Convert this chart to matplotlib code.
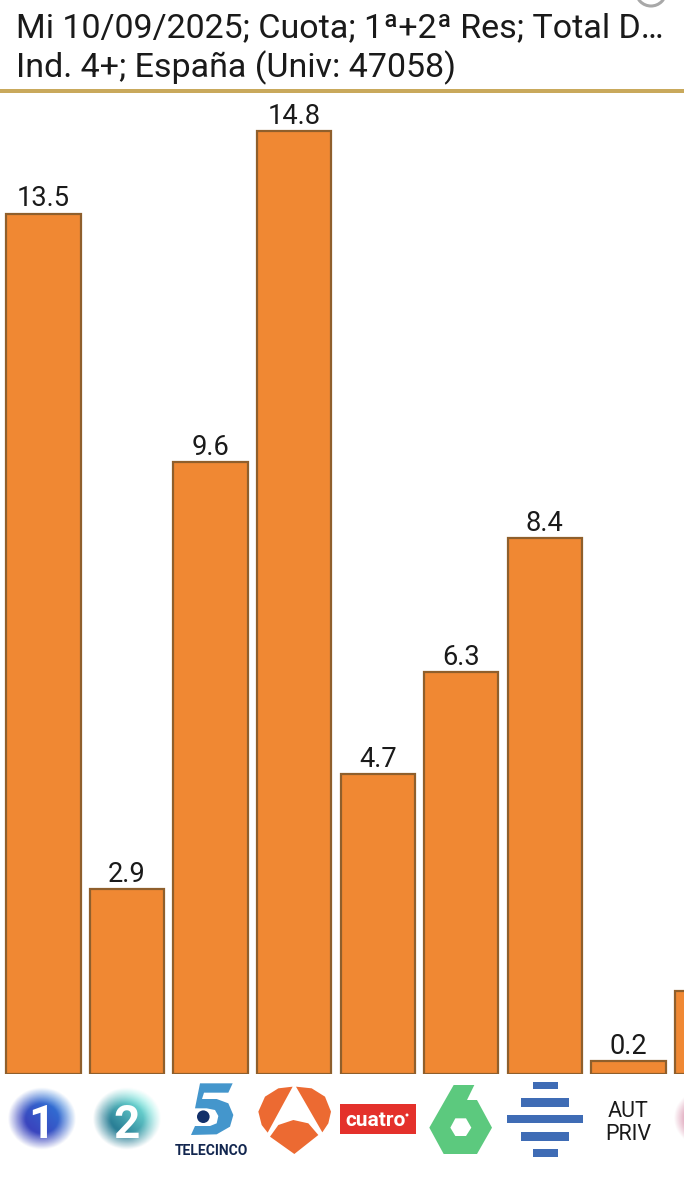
import numpy as np
import matplotlib
matplotlib.use('Agg')
import matplotlib.pyplot as plt
from matplotlib.patches import Polygon, Rectangle, Circle

plt.rcParams['font.family'] = ['Roboto', 'DejaVu Sans']

title_lines = ['Mi 10/09/2025; Cuota; 1ª+2ª Res; Total D…', 'Ind. 4+; España (Univ: 47058)']
channels = ['La 1', 'La 2', 'Telecinco', 'Antena 3', 'Cuatro', 'laSexta', 'FORTA', 'AUT PRIV', 'Otros']
shares = [13.5, 2.9, 9.6, 14.8, 4.7, 6.3, 8.4, 0.2, 1.3]

BAR_COLOR = '#F08833'
EDGE_COLOR = '#8F5F2C'

W, H = 684, 1200
fig = plt.figure(figsize=(W / 100, H / 100), dpi=100, facecolor='white')

# bars, baseline at y=1073.5px, 63.7px per unit, 83.55px per category
top_px = 95
base_px = 1073.5
ax = fig.add_axes([0, 1 - base_px / H, 1, (base_px - top_px) / H])
ax.bar(range(len(shares)), shares, width=0.89, color=BAR_COLOR, edgecolor=EDGE_COLOR, linewidth=1.6)
ax.set_xlim(-43.5 / 83.55, (W - 43.5) / 83.55)
ax.set_ylim(0, (base_px - top_px) / 63.7)
ax.axis('off')
for i, v in enumerate(shares):
    # last bar is off the edge so annotate drops its label
    ax.annotate(f'{v:.1f}', (i, v), xytext=(0, 5.2), textcoords='offset points',
                ha='center', va='baseline', fontsize=19.6, color='#1a1a1a')

# overlay in pixel coordinates for header and logos
ov = fig.add_axes([0, 0, 1, 1])
ov.patch.set_alpha(0)


def blob(cx, cy, rx, ry, inner, outer, soft=0.5):
    xs = np.linspace(cx - rx * 1.3, cx + rx * 1.3, 90)
    ys = np.linspace(cy - ry * 1.3, cy + ry * 1.3, 90)
    gx, gy = np.meshgrid(xs, ys)
    r = np.sqrt(((gx - cx) / rx) ** 2 + ((gy - cy) / ry) ** 2)
    alpha = np.clip((1.15 - r) / soft, 0, 1)
    t = np.clip(((gx - cx) / rx - (gy - cy) / ry) * 0.5 + 0.35, 0, 1)[..., None]
    rgb = (1 - t) * np.array(matplotlib.colors.to_rgb(inner)) + t * np.array(matplotlib.colors.to_rgb(outer))
    img = np.dstack([rgb, alpha])
    ov.imshow(img, extent=(xs[0], xs[-1], ys[-1], ys[0]), interpolation='bilinear', aspect='auto', zorder=1)


def zoom_a(pts):
    return [(x / 3, y / 3 + 1040) for x, y in pts]


def zoom_b(pts):
    return [(x / 3 + 342, y / 3 + 960) for x, y in pts]


# header
ov.text(16, 37, title_lines[0], fontsize=24.5, color='#1a1a1a', va='baseline')
ov.text(16, 77, title_lines[1], fontsize=24.5, color='#1a1a1a', va='baseline')
ov.add_patch(Rectangle((0, 89), W, 4, color='#C9A95C', lw=0))
ov.add_patch(Circle((651, -9), 15, fill=False, ec='#A8A8A8', lw=2.2))

# La 1, La 2
blob(42, 1119, 30, 27, '#3A45BE', '#2E78D8', soft=0.6)
ov.text(41, 1138, '1', color='white', fontsize=33, fontweight='bold', ha='center', va='baseline', zorder=3)
blob(127, 1119, 30, 27, '#2A7F96', '#7BE9DF', soft=0.6)
ov.text(127, 1138, '2', color='white', fontsize=33, fontweight='bold', ha='center', va='baseline', zorder=3)

# Telecinco
five = [(600, 130), (698, 130), (685, 158), (612, 158), (606, 177), (650, 177), (685, 190), (700, 225),
        (690, 260), (650, 283), (573, 285), (585, 258), (630, 258), (650, 250), (655, 228), (645, 210),
        (620, 205), (585, 205)]
ov.add_patch(Polygon(zoom_a(five), color='#4496CC', lw=0))
ov.add_patch(Circle((203.3, 1116.7), 6.3, color='#12306A', lw=0))
ov.text(211, 1155, 'TELECINCO', color='#12264F', fontsize=10, fontweight='bold', ha='center', va='baseline')

# Antena 3
a3_left = [(878, 140), (835, 145), (795, 170), (775, 215), (785, 255), (803, 278)]
a3_right = [(888, 140), (935, 145), (975, 170), (993, 215), (985, 250), (967, 277)]
a3_bottom = [(810, 290), (835, 255), (880, 240), (925, 250), (955, 285), (883, 342)]
for shape in (a3_left, a3_right, a3_bottom):
    ov.add_patch(Polygon(zoom_a(shape), color='#EC6A32', lw=0))

# Cuatro
ov.add_patch(Rectangle((340, 1104), 76, 30, color='#E4312B', lw=0))
ov.text(376, 1126, 'cuatro', color='white', fontsize=15, fontweight='bold', ha='center', va='baseline')
ov.add_patch(Circle((407, 1115), 1.5, color='white', lw=0))

# laSexta
six = [(335, 375), (397, 375), (375, 420), (405, 420), (450, 503), (405, 582), (305, 582), (262, 503)]
hole = [(340, 475), (372, 475), (388, 503), (372, 528), (340, 528), (325, 503)]
ov.add_patch(Polygon(zoom_b(six), color='#5CC97E', lw=0))
ov.add_patch(Polygon(zoom_b(hole), color='white', lw=0))

# FORTA stripes
for (x0, x1, y0, y1) in [(572, 648, 365, 388), (538, 682, 415, 440), (496, 723, 465, 490),
                         (538, 682, 517, 542), (572, 648, 568, 592)]:
    ov.add_patch(Rectangle((x0 / 3 + 342, y0 / 3 + 960), (x1 - x0) / 3, (y1 - y0) / 3, color='#3F6CB5', lw=0))

# AUT PRIV
ov.text(628, 1117, 'AUT', fontsize=15.5, color='#1a1a1a', ha='center', va='baseline')
ov.text(628, 1140, 'PRIV', fontsize=15.5, color='#1a1a1a', ha='center', va='baseline')

# next logo, cut off at the right edge
blob(708, 1118, 30, 26, '#D07A9A', '#E2A8BC', soft=0.6)

ov.set_xlim(0, W)
ov.set_ylim(H, 0)
ov.axis('off')

fig.savefig('out.png', dpi=100)
